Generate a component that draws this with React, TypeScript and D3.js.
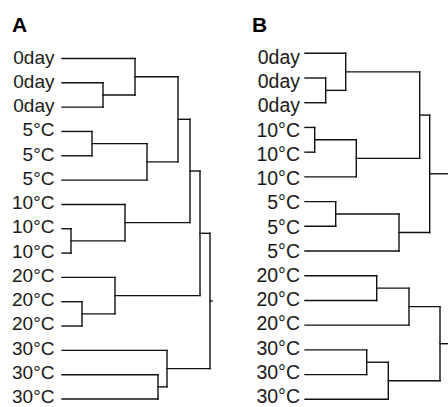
import React from "react";
import * as d3 from "d3";

// Panel A
const labelsA = ["0day","0day","0day","5°C","5°C","5°C","10°C","10°C","10°C","20°C","20°C","20°C","30°C","30°C","30°C"];
// hclust-style merges: negative = leaf (1-based), positive = earlier merge (1-based), then height
const mergesA: [number, number, number][] = [
  [-2, -3, 4.1],
  [-1, 1, 7.3],
  [-4, -5, 3.0],
  [3, -6, 8.5],
  [2, 4, 11.6],
  [-8, -9, 0.9],
  [-7, 6, 6.3],
  [5, 7, 12.8],
  [-11, -12, 2.0],
  [-10, 9, 5.3],
  [8, 10, 13.8],
  [-14, -15, 9.6],
  [-13, 12, 10.5],
  [11, 13, 14.8],
];
const rootStubA = 15.0;

// Panel B
const labelsB = ["0day","0day","0day","10°C","10°C","10°C","5°C","5°C","5°C","20°C","20°C","20°C","30°C","30°C","30°C"];
const mergesB: [number, number, number][] = [
  [-2, -3, 2.07],
  [-1, 1, 4.07],
  [-4, -5, 0.97],
  [3, -6, 5.13],
  [2, 4, 11.47],
  [-7, -8, 3.07],
  [6, -9, 9.4],
  [5, 7, 12.47],
  [-10, -11, 7.17],
  [9, -12, 10.4],
  [-13, -14, 6.17],
  [11, -15, 8.33],
  [10, 12, 13.5],
  [8, 13, 15.0],
];
const rootStubB = 15.0;

type Seg = { x1: number; y1: number; x2: number; y2: number };

function layout(
  labels: string[],
  merges: [number, number, number][],
  x: d3.ScaleLinear<number, number>,
  y: d3.ScalePoint<number>,
  stub: number
) {
  const segs: Seg[] = [];
  const nodeY: number[] = [];
  const nodeH: number[] = [];
  const pos = (id: number) =>
    id < 0 ? { y: y(-id - 1) as number, h: 0 } : { y: nodeY[id - 1], h: nodeH[id - 1] };
  merges.forEach(([a, b, h], i) => {
    const pa = pos(a);
    const pb = pos(b);
    segs.push({ x1: x(pa.h), y1: pa.y, x2: x(h), y2: pa.y });
    segs.push({ x1: x(pb.h), y1: pb.y, x2: x(h), y2: pb.y });
    segs.push({ x1: x(h), y1: pa.y, x2: x(h), y2: pb.y });
    nodeY[i] = (pa.y + pb.y) / 2;
    nodeH[i] = h;
  });
  const last = merges.length - 1;
  segs.push({ x1: x(nodeH[last]), y1: nodeY[last], x2: x(stub), y2: nodeY[last] });
  return segs;
}

export default function App() {
  const idx = d3.range(15);

  const xA = d3.scaleLinear().domain([0, 15]).range([62, 212]);
  const yA = d3.scalePoint<number>().domain(idx).range([58.5, 399]);
  const tA = d3.scalePoint<number>().domain(idx).range([63.5, 403]);
  const segsA = layout(labelsA, mergesA, xA, yA, rootStubA);

  const xB = d3.scaleLinear().domain([0, 15]).range([305, 455]);
  const yB = d3.scalePoint<number>().domain(idx).range([53.3, 399.3]);
  const tB = d3.scalePoint<number>().domain(idx).range([64, 403]);
  const segsB = layout(labelsB, mergesB, xB, yB, rootStubB);

  const font = "'Liberation Sans', Arial, sans-serif";

  return (
    <svg
      width={448}
      height={407}
      style={{ position: "absolute", left: 0, top: 0, background: "#fff" }}
    >
      <text x={12} y={32} fontFamily={font} fontWeight="bold" fontSize={21} fill="#000">A</text>
      <text x={252} y={32} fontFamily={font} fontWeight="bold" fontSize={21} fill="#000">B</text>
      <g fontFamily={font} fontSize={19} fill="#1a1a1a" textAnchor="end">
        {labelsA.map((l, i) => (
          <text key={i} x={54.5} y={tA(i)}>{l}</text>
        ))}
      </g>
      <g fontFamily={font} fontSize={19.5} fill="#1a1a1a" textAnchor="end">
        {labelsB.map((l, i) => (
          <text key={i} x={300} y={tB(i)}>{l}</text>
        ))}
      </g>
      <g stroke="#111" strokeWidth={1.4} strokeLinecap="square">
        {segsA.map((s, i) => (
          <line key={i} x1={s.x1} y1={s.y1} x2={s.x2} y2={s.y2} />
        ))}
        {segsB.map((s, i) => (
          <line key={i} x1={s.x1} y1={s.y1} x2={s.x2} y2={s.y2} />
        ))}
      </g>
    </svg>
  );
}
